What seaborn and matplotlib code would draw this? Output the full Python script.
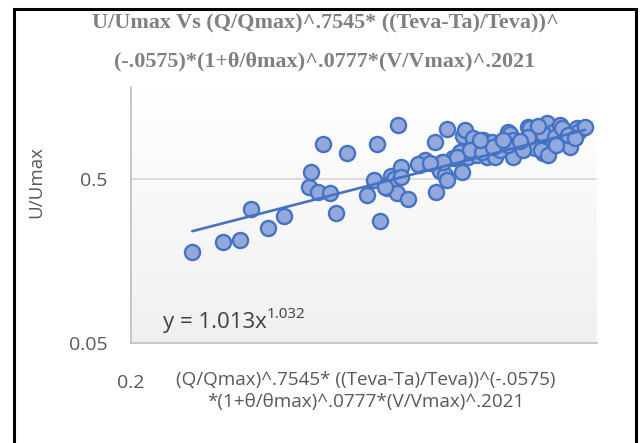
import numpy as np
import pandas as pd
import matplotlib
matplotlib.use("Agg")
import matplotlib.pyplot as plt
import seaborn as sns
from matplotlib.patches import Rectangle
from matplotlib.colors import LinearSegmentedColormap
from matplotlib.ticker import NullLocator, FixedLocator, FixedFormatter

# ---- data ----
x_vals = [0.248, 0.276, 0.293, 0.324, 0.342, 0.305, 0.411, 0.374, 0.385, 0.402,
          0.376, 0.392, 0.427, 0.458, 0.479, 0.474, 0.510, 0.469, 0.491, 0.498,
          0.503, 0.509, 0.516, 0.516, 0.529, 0.549, 0.561, 0.582, 0.607, 0.584,
          0.588, 0.596, 0.592, 0.603, 0.607, 0.620, 0.635, 0.639, 0.642, 0.646,
          0.653, 0.664, 0.674, 0.688, 0.693, 0.698, 0.657, 0.628, 0.710, 0.730,
          0.752, 0.757, 0.784, 0.806, 0.832, 0.861, 0.880, 0.902, 0.934, 0.957,
          0.978, 0.826, 0.870, 0.850, 0.908, 0.924, 0.765, 0.718, 0.730, 0.792,
          0.686, 0.598, 0.547, 0.488, 0.811, 0.765, 0.806, 0.850, 0.886, 0.844,
          0.864, 0.934, 0.752, 0.713, 0.738, 0.681, 0.835, 0.908, 0.960, 0.928,
          0.784, 0.950, 0.985, 0.889, 0.571]
y_vals = [0.180, 0.206, 0.212, 0.251, 0.298, 0.329, 0.311, 0.447, 0.416, 0.411,
          0.552, 0.818, 0.720, 0.399, 0.277, 0.818, 1.068, 0.493, 0.441, 0.522,
          0.500, 0.411, 0.592, 0.515, 0.377, 0.608, 0.653, 0.841, 1.010, 0.416,
          0.600, 0.635, 0.559, 0.529, 0.493, 0.672, 0.731, 0.552, 0.915, 0.995,
          0.681, 0.890, 0.700, 0.865, 0.773, 0.681, 0.751, 0.681, 0.841, 0.830,
          0.968, 0.941, 0.830, 1.039, 0.954, 1.099, 0.968, 1.068, 0.902, 1.024,
          1.024, 0.773, 0.773, 0.720, 0.841, 0.830, 0.681, 0.681, 0.751, 0.751,
          0.731, 0.635, 0.617, 0.447, 1.024, 0.865, 0.902, 0.941, 0.902, 0.751,
          0.700, 0.784, 0.806, 0.784, 0.865, 0.865, 1.053, 1.024, 0.968, 0.927,
          0.853, 0.890, 1.039, 0.806, 0.626]

trend_a = 1.013
trend_b = 1.032
x_ticks = [0.2]
x_tick_labels = ["0.2"]
y_ticks = [0.05, 0.5]
y_tick_labels = ["0.05", "0.5"]

title_line1 = "U/Umax Vs (Q/Qmax)^.7545* ((Teva-Ta)/Teva))^"
title_line2 = "(-.0575)*(1+θ/θmax)^.0777*(V/Vmax)^.2021"
x_label = "(Q/Qmax)^.7545* ((Teva-Ta)/Teva))^(-.0575)\n*(1+θ/θmax)^.0777*(V/Vmax)^.2021"
y_label = "U/Umax"

# ---- figure ----
sns.set_theme(style="white")
plt.rcParams["font.family"] = ["Open Sans", "DejaVu Sans"]

W, H = 643, 443
fig = plt.figure(figsize=(W / 100, H / 100), dpi=100)
fig.patch.set_facecolor("white")

L, R, B, T = 131, 597, 343, 87
ax = fig.add_axes([L / W, (H - B) / H, (R - L) / W, (B - T) / H])

ax.set_xscale("log")
ax.set_yscale("log")

# gradient background of plot area
grad = np.linspace(0, 1, 256).reshape(-1, 1)
cmap = LinearSegmentedColormap.from_list("bg", ["#F0F0F0", "#FFFFFF"])
ax.imshow(grad, extent=[0, 1, 0, 1], transform=ax.transAxes, origin="lower",
          aspect="auto", cmap=cmap, zorder=0)
ax.set_facecolor("white")

# gridline
ax.axhline(0.5, color="#D9D9D9", lw=1.3, zorder=1)

df = pd.DataFrame({"x": x_vals, "y": y_vals})
sns.scatterplot(data=df, x="x", y="y", ax=ax, s=118, color="#93A9DC",
                edgecolor="#4472C4", linewidth=1.7, zorder=3, legend=False)

tx = np.geomspace(min(x_vals), max(x_vals), 50)
trend = pd.DataFrame({"x": tx, "y": trend_a * tx ** trend_b})
sns.lineplot(data=trend, x="x", y="y", ax=ax, color="#4472C4", lw=1.9, zorder=4)

ax.set_xlim(0.2, 1.027)
ax.set_ylim(0.05, 1.82)

ax.xaxis.set_major_locator(FixedLocator(x_ticks))
ax.xaxis.set_major_formatter(FixedFormatter(x_tick_labels))
ax.yaxis.set_major_locator(FixedLocator(y_ticks))
ax.yaxis.set_major_formatter(FixedFormatter(y_tick_labels))
ax.xaxis.set_minor_locator(NullLocator())
ax.yaxis.set_minor_locator(NullLocator())
ax.tick_params(axis="both", length=0, labelsize=14, colors="#595959")
ax.tick_params(axis="y", pad=17)
ax.tick_params(axis="x", pad=22)

for s in ["top", "right"]:
    ax.spines[s].set_visible(False)
for s in ["left", "bottom"]:
    ax.spines[s].set_color("#BFBFBF")
    ax.spines[s].set_linewidth(1.2)

ax.set_xlabel(x_label, fontsize=13.6, color="#595959", linespacing=1.25)
ax.xaxis.set_label_coords(0.503, -0.11)
ax.xaxis.label.set_va("top")
ax.set_ylabel(y_label, fontsize=13.5, color="#595959")
ax.yaxis.set_label_coords(-0.204, 0.63)
ax.yaxis.label.set_va("center")

# trendline equation
t1 = ax.text(0.069, 0.082, "y = 1.013x", transform=ax.transAxes, fontsize=16,
             color="#404040", ha="left", va="center")
ax.annotate("1.032", xy=(1.0, 0.48), xycoords=t1, ha="left", va="bottom",
            fontsize=11, color="#404040")

# title (two lines)
fig.text(325 / W, 1 - 23 / H, title_line1, ha="center", va="center",
         fontsize=15.9, fontweight="bold", color="#808080", family="Liberation Serif")
fig.text(325 / W, 1 - 61 / H, title_line2, ha="center", va="center",
         fontsize=15.9, fontweight="bold", color="#808080", family="Liberation Serif")

# outer frame
fig.patches.append(Rectangle((13.5 / W, -0.05), (635.5 - 13.5) / W, 1.05 - 8.5 / H,
                             transform=fig.transFigure, fill=False,
                             edgecolor="black", linewidth=2.2))

fig.savefig("out.png", dpi=100)
